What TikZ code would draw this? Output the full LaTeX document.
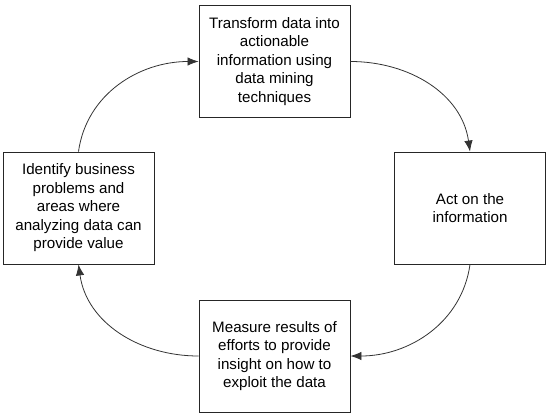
\documentclass[tikz,border=0pt]{standalone}
\usepackage{fontspec}
\setmainfont{Liberation Sans}
\usetikzlibrary{arrows.meta}
\tikzstyle{stagebox} = [draw=black!85, line width=0.9bp, rectangle,
    minimum width=151bp, minimum height=112bp, inner sep=0pt,
    align=center, font=\fontsize{15.2}{18.6}\selectfont]
\tikzstyle{cyclearrow} = [draw=black!80, line width=0.8bp,
    -{Latex[length=11bp,width=8.5bp]}]

\begin{document}
\begin{tikzpicture}[x=1bp,y=1bp]
                \useasboundingbox (0,0) rectangle (546,414);
                \node [stagebox] (transform) at (274.5,352.5) {Transform data into\\actionable\\information using\\data mining\\techniques};
                \node [stagebox] (act) at (470,206) {Act on the\\information};
                \node [stagebox] (measure) at (274.5,58) {Measure results of\\efforts to provide\\insight on how to\\exploit the data};
                \node [stagebox] (identify) at (78.5,206) {Identify business\\problems and\\areas where\\analyzing data can\\provide value};
                % the cycle
                \draw [cyclearrow] (identify.north) to[out=82,in=180] (transform.west);
                \draw [cyclearrow] (transform.east) to[out=0,in=98] (act.north);
                \draw [cyclearrow] (act.south) to[out=-98,in=0] (measure.east);
                \draw [cyclearrow] (measure.west) to[out=180,in=-82] (identify.south);
            \end{tikzpicture}
\end{document}
